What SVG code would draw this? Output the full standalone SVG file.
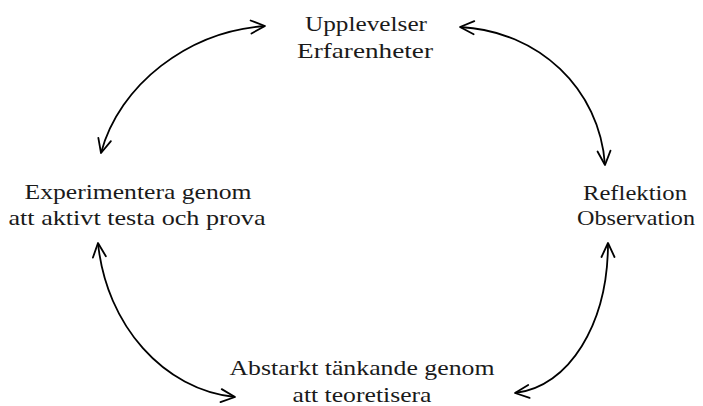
<svg xmlns="http://www.w3.org/2000/svg" width="703" height="406" viewBox="0 0 703 406">
<style>
text{font-family:"Liberation Serif","Times New Roman",serif;font-size:22px;fill:#1a1a1a;text-anchor:middle}
.c{fill:none;stroke:#000;stroke-width:1.8;marker-start:url(#ah);marker-end:url(#ah)}
</style>
<defs>
<marker id="ah" viewBox="-17 -9 19 18" markerWidth="19" markerHeight="18" refX="0" refY="0" markerUnits="userSpaceOnUse" orient="auto-start-reverse">
<path d="M-14,-6.5 L0,0 L-14,6.5" fill="none" stroke="#000" stroke-width="1.8" stroke-linejoin="round" stroke-linecap="round"/>
</marker>
</defs>
<g id="connectors">
<path class="c" d="M101,153 C119.3,84.7 188.1,31.4 265,26"/>
<path class="c" d="M460,27 C538.8,30.9 599.7,89 605,165"/>
<path class="c" d="M98,243 C106.2,325.2 163.8,389.9 235,397"/>
<path class="c" d="M608,243 C608,324.1 568.9,387.1 515,393"/>
</g>
<g id="node-top">
<text x="366" y="31" textLength="122" lengthAdjust="spacingAndGlyphs">Upplevelser</text>
<text x="365" y="58" textLength="136" lengthAdjust="spacingAndGlyphs">Erfarenheter</text>
</g>
<g id="node-right">
<text x="635" y="200" textLength="104" lengthAdjust="spacingAndGlyphs">Reflektion</text>
<text x="636" y="225" textLength="118" lengthAdjust="spacingAndGlyphs">Observation</text>
</g>
<g id="node-bottom">
<text x="362" y="375" textLength="265" lengthAdjust="spacingAndGlyphs">Abstarkt tänkande genom</text>
<text x="362" y="402" textLength="139" lengthAdjust="spacingAndGlyphs">att teoretisera</text>
</g>
<g id="node-left">
<text x="138" y="199" textLength="227" lengthAdjust="spacingAndGlyphs">Experimentera genom</text>
<text x="137" y="225" textLength="257" lengthAdjust="spacingAndGlyphs">att aktivt testa och prova</text>
</g>
</svg>
